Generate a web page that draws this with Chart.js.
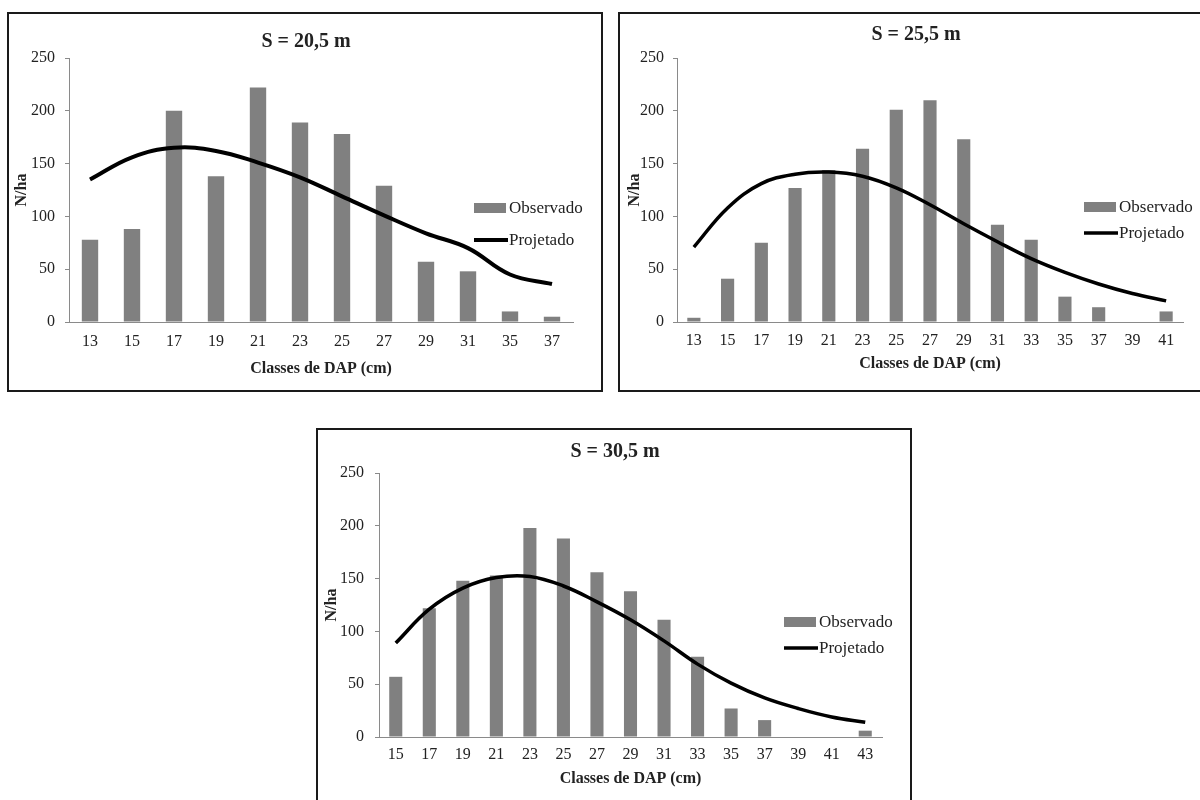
<!DOCTYPE html>
<html><head><meta charset="utf-8">
<script src="https://cdn.jsdelivr.net/npm/chart.js@4.4.0/dist/chart.umd.min.js"></script>
<style>
html,body{margin:0;padding:0;background:#fff;width:1200px;height:800px;overflow:hidden;position:relative}
.box{position:absolute;border:2px solid #1a1a1a;box-sizing:border-box}
canvas{position:absolute}
</style></head><body>
<div class="box" style="left:7px;top:12px;width:596px;height:380px"></div>
<div class="box" style="left:618px;top:12px;width:600px;height:380px"></div>
<div class="box" style="left:316px;top:428px;width:596px;height:400px"></div>
<canvas id="c1" width="594" height="378" style="left:8px;top:13px"></canvas>
<canvas id="c2" width="594" height="378" style="left:618px;top:13px"></canvas>
<canvas id="c3" width="594" height="378" style="left:317px;top:429px"></canvas>
<script>
// ---- data ----
const title1 = 'S = 20,5 m';
const classes1 = ['13','15','17','19','21','23','25','27','29','31','35','37'];
const observado1 = [78,88,200,138,222,189,178,129,57,48,10,5];
const projetado1 = [135,156,165,162,151,137,119,101,84,70,45,36];

const title2 = 'S = 25,5 m';
const classes2 = ['13','15','17','19','21','23','25','27','29','31','33','35','37','39','41'];
const observado2 = [4,41,75,127,144,164,201,210,173,92,78,24,14,0,10];
const projetado2 = [71,108,131,140,142,138,127,111,93,76,60,47,36,27,20];

const title3 = 'S = 30,5 m';
const classes3 = ['15','17','19','21','23','25','27','29','31','33','35','37','39','41','43'];
const observado3 = [57,122,148,153,198,188,156,138,111,76,27,16,0,0,6];
const projetado3 = [89,121,141,151,152,143,128,111,91,69,51,37,27,19,14];

const yTicks = [0,50,100,150,200,250];
const seriesNames = ['Observado','Projetado'];
const xTitle = 'Classes de DAP (cm)';
const yTitle = 'N/ha';

// ---- drawing ----
const FONT = '"Liberation Serif","Times New Roman",serif';
const TXT = '#222';
const AXIS = '#8a8a8a';

const extras = {
  id: 'extras',
  afterDraw(chart, args, o) {
    const ctx = chart.ctx, ca = chart.chartArea;
    ctx.save();
    // title
    ctx.font = 'bold 20px ' + FONT;
    ctx.fillStyle = TXT;
    ctx.textAlign = 'center';
    ctx.textBaseline = 'middle';
    ctx.fillText(o.text, o.tx, o.ty);
    // legend
    const ds = chart.data.datasets;
    const sx = ca.right + o.lx;
    ctx.font = '17px ' + FONT;
    ctx.textAlign = 'left';
    // bar item
    ctx.fillStyle = ds[0].backgroundColor;
    ctx.fillRect(sx, ca.top + o.ly1 - 5, 32, 10);
    ctx.fillStyle = TXT;
    ctx.fillText(ds[0].label, sx + 35, ca.top + o.ly1 + 1);
    // line item
    ctx.strokeStyle = ds[1].borderColor;
    ctx.lineWidth = ds[1].borderWidth;
    ctx.beginPath();
    ctx.moveTo(sx, ca.top + o.ly2);
    ctx.lineTo(sx + 34, ca.top + o.ly2);
    ctx.stroke();
    ctx.fillText(ds[1].label, sx + 35, ca.top + o.ly2 + 1);
    ctx.restore();
  }
};

function makeChart(id, labels, obs, proj, g) {
  new Chart(document.getElementById(id), {
    type: 'bar',
    data: {
      labels: labels,
      datasets: [
        { type: 'bar', label: seriesNames[0], data: obs, backgroundColor: '#808080',
          borderWidth: 0, categoryPercentage: 1, barPercentage: 0.39, order: 1 },
        { type: 'line', label: seriesNames[1], data: proj, borderColor: '#000', borderWidth: g.lw,
          pointRadius: 0, tension: 0.4, fill: false, order: 0 }
      ]
    },
    options: {
      responsive: false,
      animation: false,
      devicePixelRatio: 1,
      layout: { padding: { left: 4, right: 29, top: g.top, bottom: 4 } },
      plugins: {
        legend: { display: false },
        tooltip: { enabled: false },
        extras: g.extras
      },
      scales: {
        x: {
          grid: { display: false },
          border: { display: true, color: AXIS, width: 1 },
          ticks: { color: TXT, font: { family: FONT, size: 16 }, padding: g.xpad, maxRotation: 0, autoSkip: false },
          title: { display: true, text: xTitle, color: TXT, font: { family: FONT, size: 16, weight: 'bold' },
                   padding: { top: 0, bottom: g.xtb } },
          afterFit(s) { s.height = g.xh; }
        },
        y: {
          min: 0, max: 250,
          afterBuildTicks(s) { s.ticks = yTicks.map(v => ({ value: v })); },
          grid: { display: true, drawOnChartArea: false, drawTicks: true, tickLength: 4, color: AXIS },
          border: { display: true, color: AXIS, width: 1 },
          ticks: { color: TXT, font: { family: FONT, size: 16 }, padding: g.ypad },
          title: { display: true, text: yTitle, color: TXT, font: { family: FONT, size: 16, weight: 'bold' },
                   padding: { top: g.ytp, bottom: 0 } },
          afterFit(s) { s.width = g.yw; }
        }
      }
    },
    plugins: [extras]
  });
}

makeChart('c1', classes1, observado1, projetado1, {
  top: 45, xh: 65, xpad: 2, xtb: 9, yw: 57, ypad: 10, ytp: 0, lw: 4,
  extras: { text: title1, tx: 298, ty: 29, lx: -99, ly1: 150, ly2: 182 }
});
makeChart('c2', classes2, observado2, projetado2, {
  top: 45, xh: 65, xpad: 1, xtb: 14, yw: 55, ypad: 9, ytp: 3, lw: 3.5,
  extras: { text: title2, tx: 298, ty: 22, lx: -99, ly1: 149, ly2: 175 }
});
makeChart('c3', classes3, observado3, projetado3, {
  top: 44, xh: 66, xpad: 0, xtb: 15, yw: 58, ypad: 11, ytp: 1, lw: 3.5,
  extras: { text: title3, tx: 298, ty: 23, lx: -98, ly1: 149, ly2: 175 }
});
</script>
</body></html>
